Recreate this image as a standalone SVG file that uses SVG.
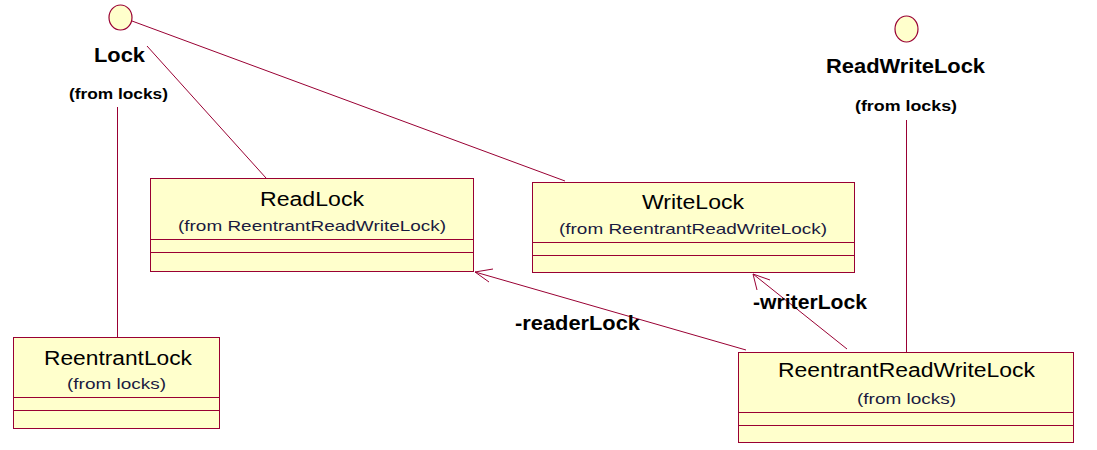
<svg xmlns="http://www.w3.org/2000/svg" width="1097" height="450" viewBox="0 0 1097 450">
<style>
.box{fill:#ffffcc;stroke:#990033;stroke-width:1}
.div{stroke:#990033;stroke-width:1}
.iface{fill:#ffffcc;stroke:#990033;stroke-width:1.2}
.conn{stroke:#990033;stroke-width:1;fill:none}
.title{font-family:"Liberation Sans",Arial,sans-serif;font-size:20px;fill:#000;text-anchor:middle}
.sub{font-family:"Liberation Sans",Arial,sans-serif;font-size:15px;fill:#1a1a40;text-anchor:middle}
.blab{font-family:"Liberation Sans",Arial,sans-serif;font-size:21px;font-weight:bold;fill:#000;text-anchor:middle}
.bsub{font-family:"Liberation Sans",Arial,sans-serif;font-size:15px;font-weight:bold;fill:#000;text-anchor:middle}
.role{font-family:"Liberation Sans",Arial,sans-serif;font-size:21px;font-weight:bold;fill:#000}
</style>
<rect width="1097" height="450" fill="#ffffff"/>
<g id="connectors">
<line class="conn" x1="132" y1="21" x2="565" y2="181"/>
<line class="conn" x1="147" y1="46" x2="266" y2="178"/>
<line class="conn" x1="117.5" y1="107" x2="117.5" y2="337"/>
<line class="conn" x1="906.5" y1="120" x2="906.5" y2="352"/>
<line class="conn" x1="746" y1="350" x2="475" y2="272"/>
<polyline class="conn" points="493,269 475,272 489,282"/>
<line class="conn" x1="847" y1="349" x2="753" y2="274"/>
<polyline class="conn" points="770,280 753,274 757,290"/>
<text class="role" x="515" y="330" textLength="125" lengthAdjust="spacingAndGlyphs">-readerLock</text>
<text class="role" x="753" y="309" textLength="114" lengthAdjust="spacingAndGlyphs">-writerLock</text>
</g>
<g id="Lock">
<ellipse class="iface" cx="120.5" cy="17.5" rx="11.5" ry="12.5"/>
<text class="blab" x="119.5" y="62" textLength="51" lengthAdjust="spacingAndGlyphs">Lock</text>
<text class="bsub" x="118.5" y="99" textLength="99" lengthAdjust="spacingAndGlyphs">(from locks)</text>
</g>
<g id="ReadWriteLock">
<ellipse class="iface" cx="906.5" cy="29" rx="11.5" ry="13"/>
<text class="blab" x="905.5" y="73" textLength="159" lengthAdjust="spacingAndGlyphs">ReadWriteLock</text>
<text class="bsub" x="906" y="111" textLength="102" lengthAdjust="spacingAndGlyphs">(from locks)</text>
</g>
<g id="ReadLock">
<rect class="box" x="150.5" y="178.5" width="323" height="93"/>
<line class="div" x1="150.5" y1="239.5" x2="473.5" y2="239.5"/>
<line class="div" x1="150.5" y1="252.5" x2="473.5" y2="252.5"/>
<text class="title" x="312" y="206" textLength="104" lengthAdjust="spacingAndGlyphs">ReadLock</text>
<text class="sub" x="312" y="231" textLength="268" lengthAdjust="spacingAndGlyphs">(from ReentrantReadWriteLock)</text>
</g>
<g id="WriteLock">
<rect class="box" x="532.5" y="182.5" width="322" height="90"/>
<line class="div" x1="532.5" y1="242.5" x2="854.5" y2="242.5"/>
<line class="div" x1="532.5" y1="255.5" x2="854.5" y2="255.5"/>
<text class="title" x="693" y="209" textLength="102" lengthAdjust="spacingAndGlyphs">WriteLock</text>
<text class="sub" x="693" y="234" textLength="268" lengthAdjust="spacingAndGlyphs">(from ReentrantReadWriteLock)</text>
</g>
<g id="ReentrantLock">
<rect class="box" x="13.5" y="337.5" width="206" height="91"/>
<line class="div" x1="13.5" y1="397.5" x2="219.5" y2="397.5"/>
<line class="div" x1="13.5" y1="410.5" x2="219.5" y2="410.5"/>
<text class="title" x="118" y="365" textLength="148" lengthAdjust="spacingAndGlyphs">ReentrantLock</text>
<text class="sub" x="116.5" y="389" textLength="99" lengthAdjust="spacingAndGlyphs">(from locks)</text>
</g>
<g id="ReentrantReadWriteLock">
<rect class="box" x="738.5" y="352.5" width="335" height="90"/>
<line class="div" x1="738.5" y1="412.5" x2="1073.5" y2="412.5"/>
<line class="div" x1="738.5" y1="425.5" x2="1073.5" y2="425.5"/>
<text class="title" x="906.5" y="377" textLength="257" lengthAdjust="spacingAndGlyphs">ReentrantReadWriteLock</text>
<text class="sub" x="906.5" y="404" textLength="99" lengthAdjust="spacingAndGlyphs">(from locks)</text>
</g>
</svg>
